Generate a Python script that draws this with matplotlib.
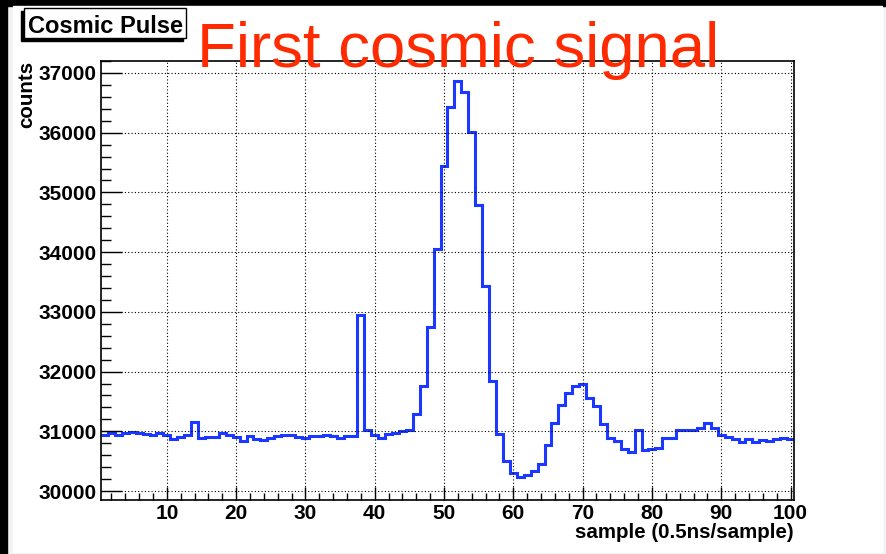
import numpy as np
import matplotlib.pyplot as plt
from matplotlib.patches import Rectangle
from matplotlib.ticker import MultipleLocator

plt.rcParams['font.family'] = ['Liberation Sans', 'DejaVu Sans']

# counts per sample (bins 1..100)
counts = [
    30933, 30978, 30933, 30978, 30994, 30978, 30955, 30933, 30978, 30933,
    30877, 30905, 30933, 31156, 30894, 30911, 30911, 30966, 30944, 30911,
    30838, 30922, 30866, 30849, 30894, 30922, 30944, 30944, 30905, 30883,
    30922, 30922, 30944, 30927, 30883, 30922, 30922, 32950, 31028, 30944,
    30896, 30958, 30980, 31005, 31025, 31290, 31767, 32749, 34056, 35441,
    36428, 36860, 36680, 36007, 34796, 33439, 31840, 30950, 30511, 30298,
    30230, 30275, 30343, 30455, 30770, 31140, 31433, 31646, 31758, 31792,
    31562, 31427, 31129, 30893, 30843, 30708, 30646, 31017, 30695, 30698,
    30715, 30883, 30883, 31028, 31028, 31028, 31050, 31140, 31050, 30939,
    30900, 30872, 30816, 30872, 30816, 30850, 30838, 30872, 30894, 30872,
]
x_ticks = [10, 20, 30, 40, 50, 60, 70, 80, 90, 100]
y_ticks = [30000, 31000, 32000, 33000, 34000, 35000, 36000, 37000]

title = 'First cosmic signal'
hist_name = 'Cosmic Pulse'
x_title = 'sample (0.5ns/sample)'
y_title = 'counts'

W, H = 887, 554
fig = plt.figure(figsize=(W / 100, H / 100), dpi=100)
fig.patch.set_facecolor('#f3f3f3')


def box(x0, y0, x1, y1):
    # pixel box (top-left origin) -> figure fraction rect
    return (x0 / W, 1 - y1 / H), (x1 - x0) / W, (y1 - y0) / H


def add_rect(x0, y0, x1, y1, **kw):
    xy, w, h = box(x0, y0, x1, y1)
    fig.add_artist(Rectangle(xy, w, h, transform=fig.transFigure, **kw))


# slide background: black bands top/left, white canvas
add_rect(0, 0, W, 6, color='black', zorder=-2)
add_rect(0, 0, 7, H, color='black', zorder=-2)
add_rect(13, 6, 882, 552, color='white', zorder=-1)

# the histogram frame
xy, w, h = box(101, 61, 794, 500)
ax = fig.add_axes([xy[0], xy[1], w, h])
edges = np.arange(len(counts) + 1) + 0.5
ax.stairs(counts, edges, baseline=None, color='#1a38ff', lw=2.2)

ax.set_xlim(0.5, 100.5)
ax.set_ylim(29850, 37200)
ax.set_xticks(x_ticks)
ax.set_yticks(y_ticks)
ax.xaxis.set_minor_locator(MultipleLocator(2))
ax.yaxis.set_minor_locator(MultipleLocator(200))
ax.tick_params(which='both', direction='in', top=False, right=False,
               width=1, labelsize=15)
ax.tick_params(axis='x', which='major', length=9.5, pad=3)
ax.tick_params(axis='x', which='minor', length=5)
ax.tick_params(axis='y', which='major', length=15, pad=3)
ax.tick_params(axis='y', which='minor', length=7.5)
for t in ax.get_xticklabels() + ax.get_yticklabels():
    t.set_fontweight('bold')

ax.grid(True, which='major', color='black', linestyle=(0, (1, 2)), lw=0.8)
for s in ax.spines.values():
    s.set_linewidth(1.2)

# axis titles, ROOT style (aligned to the end of the axis)
fig.text(794 / W, 1 - 532 / H, x_title, ha='right', va='center',
         fontsize=14.8, fontweight='bold')
fig.text(27 / W, 1 - 61 / H, y_title, rotation=90, ha='center', va='top',
         fontsize=14.8, fontweight='bold')

# title pave with its shadow (bottom-left)
add_rect(21.5, 11, 182.7, 40.5, color='black', zorder=4)
add_rect(24.5, 8, 185.7, 37.5, facecolor='white', edgecolor='black',
         lw=1.0, zorder=5)
fig.text(106 / W, 1 - 33.3 / H, hist_name, ha='center', va='baseline',
         fontsize=17, fontweight='bold', zorder=6)

# big red slide title, overlapping the frame
fig.text(197 / W, 1 - 67 / H, title, ha='left', va='baseline',
         fontsize=45.7, color='#ff2a00', zorder=7)

fig.savefig('out.png', dpi=100, facecolor=fig.get_facecolor())
